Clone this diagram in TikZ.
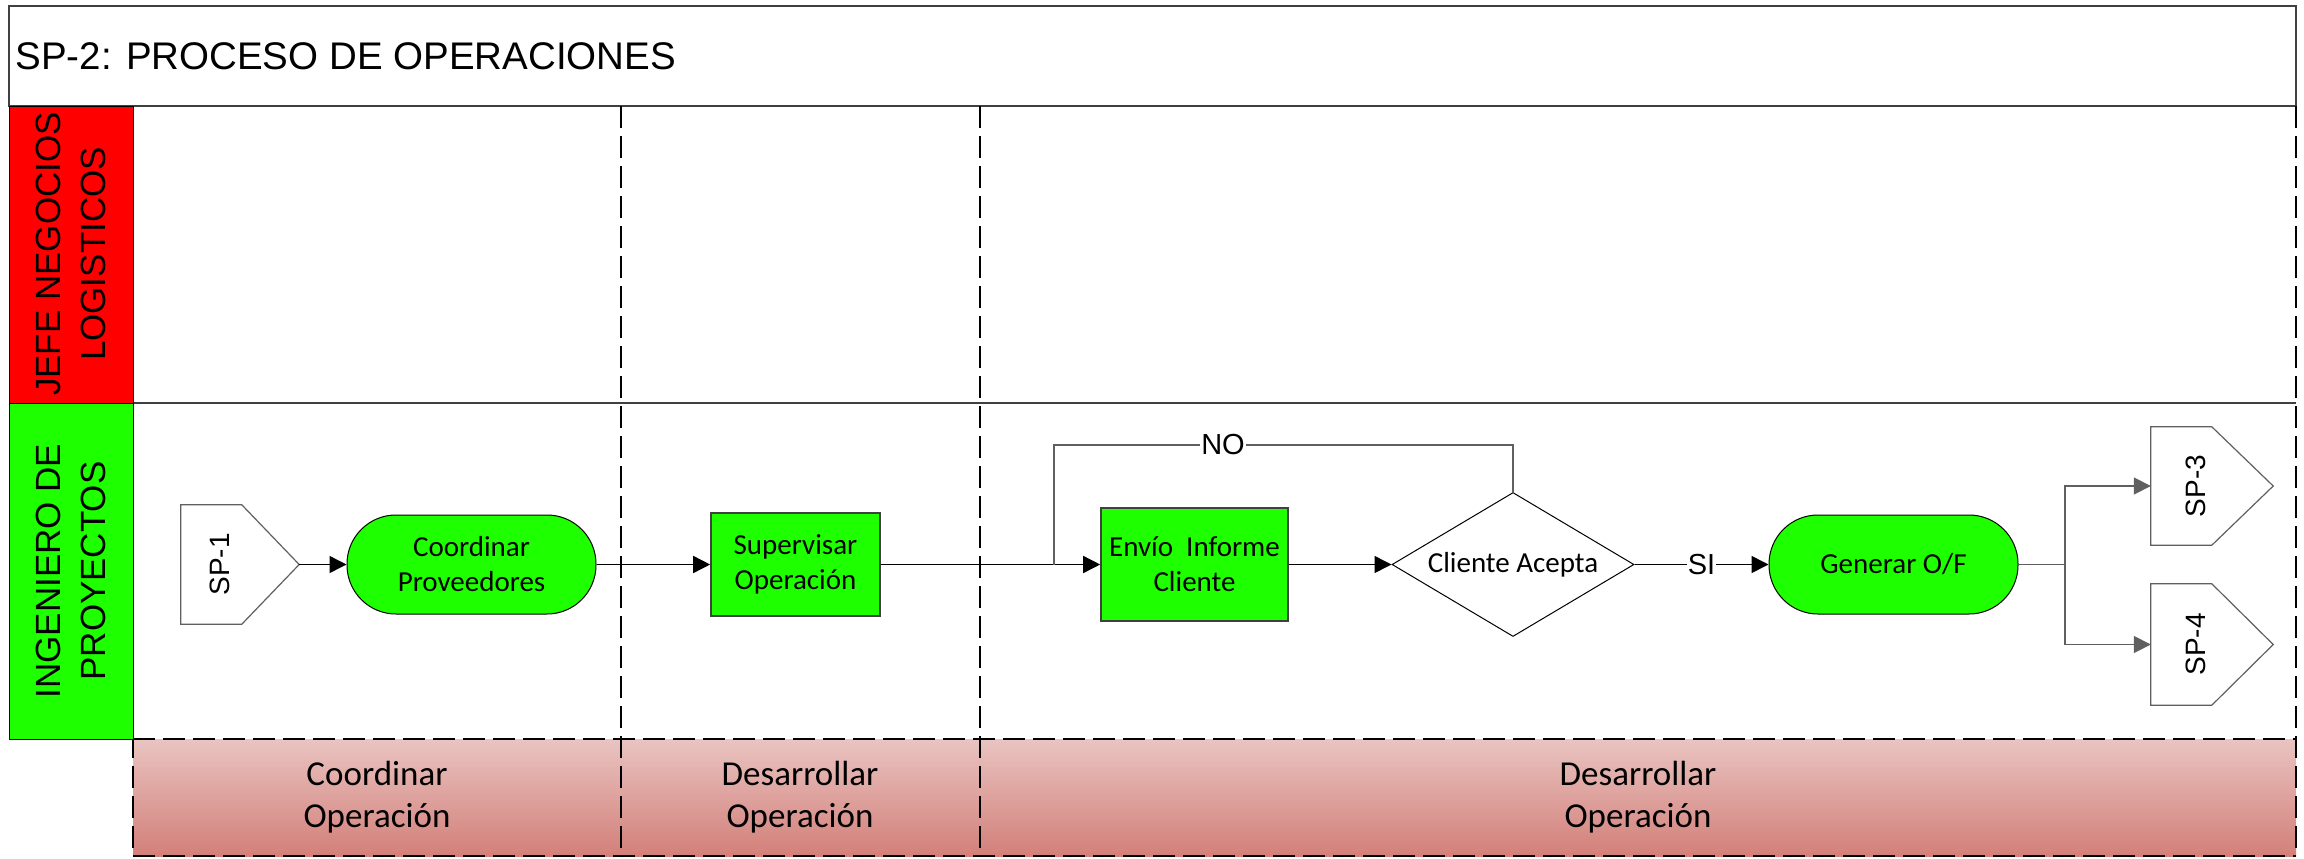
\documentclass[tikz,border=0pt]{standalone}
\usepackage{fontspec}
\setmainfont{Liberation Sans}
\newfontfamily\calibri{Carlito}
\usetikzlibrary{shapes.geometric,arrows.meta}

\definecolor{laneRed}{RGB}{255,0,0}
\definecolor{laneGreen}{RGB}{30,255,0}
\definecolor{bandTop}{RGB}{233,196,193}
\definecolor{bandBot}{RGB}{211,127,121}
\definecolor{frameGray}{RGB}{64,64,64}
\definecolor{wireGray}{RGB}{96,96,96}

\begin{document}
\begin{tikzpicture}[x=1bp,y=-1bp,
  frame/.style={draw=frameGray,line width=2.2bp},
  divider/.style={draw=black,line width=2.2bp,dash pattern=on 22bp off 8bp},
  header/.style={draw=black,line width=1bp},
  headtext/.style={rotate=90,align=center,font=\fontsize{35bp}{45bp}\selectfont},
  phase/.style={align=center,font=\calibri\fontsize{35bp}{42bp}\selectfont},
  task/.style={draw=frameGray,line width=1.6bp,fill=laneGreen,align=center,
    inner sep=0pt,font=\calibri\fontsize{29bp}{35bp}\selectfont},
  term/.style={draw=black,line width=1bp,fill=laneGreen,align=center,
    inner sep=0pt,rounded corners=49bp,font=\calibri\fontsize{29bp}{35bp}\selectfont},
  decision/.style={diamond,draw=black,line width=1bp,fill=white,inner sep=0pt,
    font=\calibri\fontsize{29bp}{35bp}\selectfont},
  portbox/.style={rectangle,draw=none,inner sep=0pt},
  portline/.style={draw=wireGray,line width=1.2bp,fill=white},
  porttext/.style={rotate=90,font=\fontsize{28bp}{32bp}\selectfont},
  conn/.style={draw=black,line width=1.5bp,-{Triangle[length=17bp,width=17bp]}},
  wire/.style={draw=wireGray,line width=1.5bp},
  gconn/.style={draw=wireGray,line width=1.5bp,-{Triangle[length=17bp,width=17bp]}},
  lbl/.style={fill=white,inner sep=1bp,font=\fontsize{29bp}{32bp}\selectfont}
]
% canvas
\fill[white] (0,0) rectangle (2304,858);
\useasboundingbox (0,0) rectangle (2304,858);

% phase band with gradient
\shade[top color=bandTop,bottom color=bandBot] (133,739) rectangle (2296,856);

% title bar
\draw[frame] (9,6) rectangle (2296,106);
\node[anchor=west,font=\fontsize{38.5bp}{42bp}\selectfont] (title) at (12,56) {SP-2: PROCESO DE OPERACIONES};

% lane separator
\draw[frame] (133,403) -- (2296,403);

% column dividers and outer dashed edges
\draw[divider] (133,106) -- (133,856);
\draw[divider] (621,106) -- (621,856);
\draw[divider] (980,106) -- (980,856);
\draw[divider] (2296,106) -- (2296,856);
\draw[divider] (133,739) -- (2296,739);
\draw[divider] (133,856) -- (2296,856);

% lane headers
\draw[header,fill=laneRed] (9,106) rectangle (133,403);
\draw[header,fill=laneGreen] (9,403) rectangle (133,739);
\node[headtext] (laneA) at (71,254) {JEFE NEGOCIOS\\LOGISTICOS};
\node[headtext] (laneB) at (71,571) {INGENIERO DE\\PROYECTOS};

% phase labels
\node[phase] (phA) at (377,797) {Coordinar\\Operación};
\node[phase] (phB) at (800,797) {Desarrollar\\Operación};
\node[phase] (phC) at (1638,797) {Desarrollar\\Operación};

% off-page references
\node[portbox,minimum width=118bp,minimum height=119bp] (sp1) at (240,564.5) {};
\draw[portline] (sp1.north west) -- ([xshift=61bp]sp1.north west) -- (sp1.east)
  -- ([xshift=61bp]sp1.south west) -- (sp1.south west) -- cycle;
\node[porttext] (sp1t) at (220,564.5) {SP-1};

\node[portbox,minimum width=122bp,minimum height=118bp] (sp3) at (2212,486) {};
\draw[portline] (sp3.north west) -- ([xshift=61bp]sp3.north west) -- (sp3.east)
  -- ([xshift=61bp]sp3.south west) -- (sp3.south west) -- cycle;
\node[porttext] (sp3t) at (2196,486) {SP-3};

\node[portbox,minimum width=122bp,minimum height=121bp] (sp4) at (2212,644.5) {};
\draw[portline] (sp4.north west) -- ([xshift=61bp]sp4.north west) -- (sp4.east)
  -- ([xshift=61bp]sp4.south west) -- (sp4.south west) -- cycle;
\node[porttext] (sp4t) at (2196,644.5) {SP-4};

% process steps
\node[term,minimum width=249bp,minimum height=99bp] (coord) at (471.5,564.5) {Coordinar\\Proveedores};
\node[task,minimum width=169bp,minimum height=103bp] (superv) at (795.5,564.5) {Supervisar\\Operación};
\node[task,minimum width=187bp,minimum height=113bp] (envio) at (1194.5,564.5) {Envío\ \ Informe\\Cliente};
\node[decision,minimum width=242bp,minimum height=144bp,aspect=1.68] (dec) at (1513,564.5) {Cliente Acepta};
\node[term,minimum width=249bp,minimum height=99bp] (gen) at (1893.5,564.5) {Generar O/F};

% connectors
\draw[conn] (sp1.east) -- (coord.west);
\draw[conn] (coord.east) -- (superv.west);
\draw[conn] (superv.east) -- (envio.west);
\draw[conn] (envio.east) -- (dec.west);

\coordinate (noturn) at (1054,445);
\draw[wire] (dec.north) |- (noturn) -- (noturn |- envio.west);
\node[lbl] (nolbl) at (1223,445) {NO};

\draw[conn] (dec.east) -- node[lbl] (silbl) {SI} (gen.west);

\coordinate (fork) at (2065,564.5);
\draw[wire] (gen.east) -- (fork);
\draw[gconn] (fork) |- (sp3.west);
\draw[gconn] (fork) |- (sp4.west);
\end{tikzpicture}
\end{document}
